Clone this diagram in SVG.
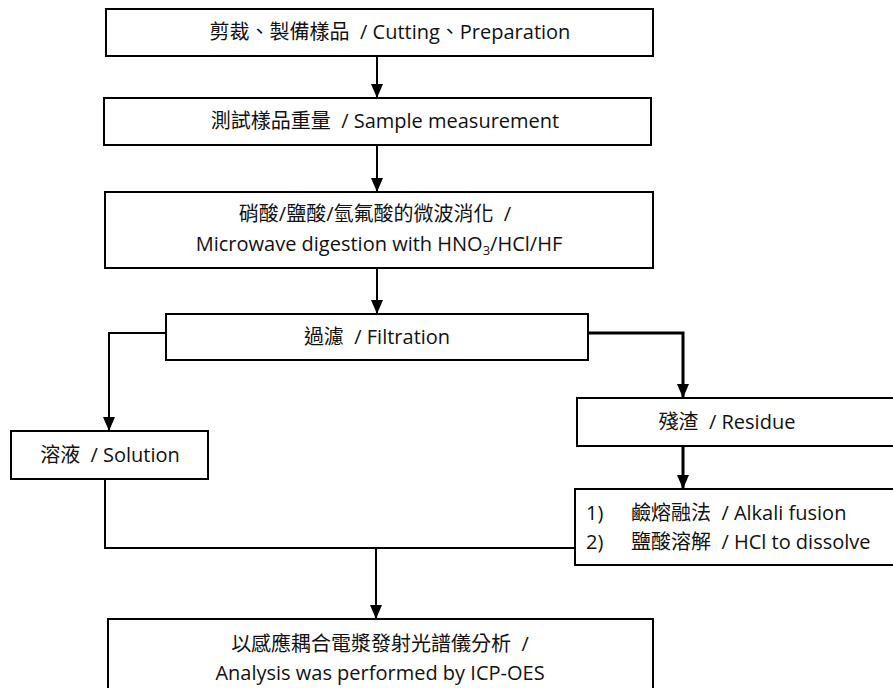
<svg xmlns="http://www.w3.org/2000/svg" width="893" height="688" viewBox="0 0 893 688">
<defs>
<style>
.box{fill:#fff;stroke:#000;stroke-width:2}
.t{font-family:"Open Sans","Noto Sans CJK TC",sans-serif;font-size:20px;fill:#111}
.c{text-anchor:middle}
.ln{fill:none;stroke:#000;stroke-width:2}
</style>
<marker id="ah" markerUnits="userSpaceOnUse" markerWidth="14" markerHeight="12" refX="14" refY="6" orient="auto">
<path d="M0,0 L14,6 L0,12 z" fill="#000"/>
</marker>
</defs>
<rect width="893" height="688" fill="#fff"/>
<g id="connectors">
<line class="ln" x1="377" y1="56" x2="377" y2="98" marker-end="url(#ah)"/>
<line class="ln" x1="377" y1="145" x2="377" y2="192" marker-end="url(#ah)"/>
<line class="ln" x1="377" y1="268" x2="377" y2="314" marker-end="url(#ah)"/>
<path class="ln" d="M166,333 H109 V431" marker-end="url(#ah)"/>
<path class="ln" d="M588,333 H683 V398" style="stroke-width:3" marker-end="url(#ah)"/>
<line class="ln" x1="683" y1="446" x2="683" y2="489" style="stroke-width:3" marker-end="url(#ah)"/>
<path class="ln" d="M105,479 V548 H575"/>
<line class="ln" x1="376" y1="548" x2="376" y2="619" marker-end="url(#ah)"/>
</g>
<g id="n1">
<rect class="box" x="106" y="9" width="547" height="47"/>
<text class="t c" x="390" y="39">剪裁、製備樣品 &#160;/ Cutting、Preparation</text>
</g>
<g id="n2">
<rect class="box" x="104" y="98" width="547" height="47"/>
<text class="t c" x="385" y="128">測試樣品重量 &#160;/ Sample measurement</text>
</g>
<g id="n3">
<rect class="box" x="105" y="192" width="548" height="76"/>
<text class="t c" x="375" y="221">硝酸/鹽酸/氫氟酸的微波消化 &#160;/</text>
<text class="t c" x="379" y="251">Microwave digestion with HNO<tspan font-size="13" dy="4">3</tspan><tspan dy="-4">/HCl/HF</tspan></text>
</g>
<g id="n4">
<rect class="box" x="166" y="314" width="422" height="46"/>
<text class="t c" x="377" y="344">過濾 &#160;/ Filtration</text>
</g>
<g id="n5">
<rect class="box" x="11" y="431" width="197" height="48"/>
<text class="t c" x="110" y="462">溶液 &#160;/ Solution</text>
</g>
<g id="n6">
<rect class="box" x="577" y="398" width="320" height="48"/>
<text class="t c" x="727" y="429">殘渣 &#160;/ Residue</text>
</g>
<g id="n7">
<rect class="box" x="575" y="489" width="322" height="76"/>
<text class="t" x="586" y="520">1)</text>
<text class="t" x="631" y="520">鹼熔融法 &#160;/ Alkali fusion</text>
<text class="t" x="586" y="549">2)</text>
<text class="t" x="631" y="549">鹽酸溶解 &#160;/ HCl to dissolve</text>
</g>
<g id="n8">
<rect class="box" x="108" y="619" width="545" height="80"/>
<text class="t c" x="380" y="651">以感應耦合電漿發射光譜儀分析 &#160;/</text>
<text class="t c" x="380" y="680">Analysis was performed by ICP-OES</text>
</g>
</svg>
